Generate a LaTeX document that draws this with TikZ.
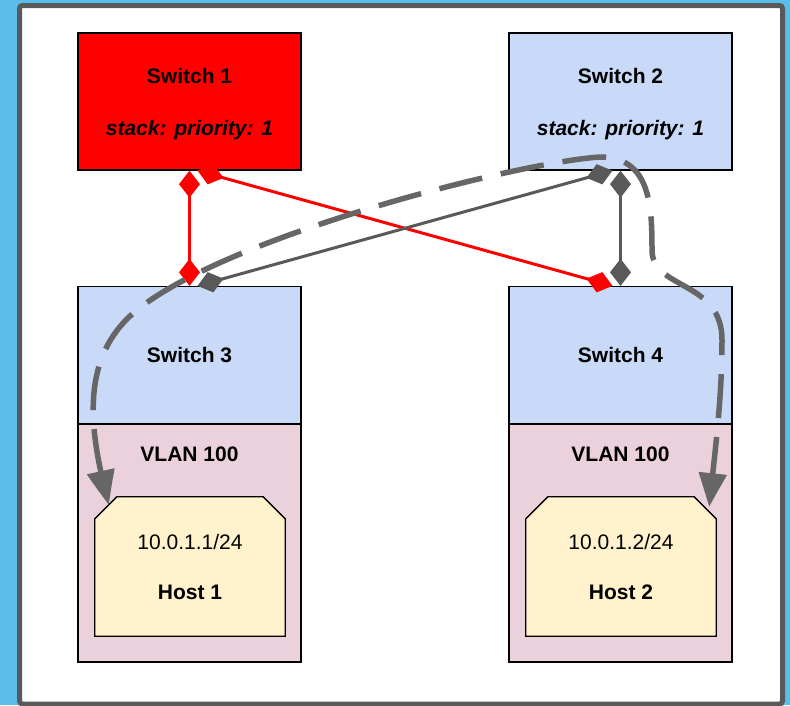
\documentclass[tikz,border=0pt]{standalone}
\usepackage{fontspec}
\setmainfont{Liberation Sans}
\usetikzlibrary{arrows.meta,bending,calc}

\definecolor{skyblue}{HTML}{5BBDEB}
\definecolor{framegray}{HTML}{595959}
\definecolor{swblue}{HTML}{C9DAF8}
\definecolor{vlanpink}{HTML}{EAD1DC}
\definecolor{hostyellow}{HTML}{FFF2CC}
\definecolor{linkgray}{HTML}{595959}
\definecolor{pathgray}{HTML}{666666}

\tikzset{
  box/.style={draw=black, line width=1.3pt, minimum width=223pt, inner sep=0pt,
              font=\fontsize{21}{52}\selectfont\bfseries, align=center},
  switchbox/.style={box, minimum height=137pt},
  vlanbox/.style={box, fill=vlanpink, minimum height=238pt},
  hostsize/.style={minimum width=190pt, minimum height=139pt, inner sep=0pt},
  hostshape/.style={draw=black, line width=1.3pt, fill=hostyellow, line join=miter},
  hosttext/.style={font=\fontsize{21}{50}\selectfont, align=center, inner sep=0pt},
  lbl/.style={font=\fontsize{21}{25}\selectfont\bfseries, inner sep=0pt,
              text height=15pt, text depth=0pt},
  link/.style={line width=3pt,
    arrows={Diamond[length=27pt,width=21pt]-Diamond[length=27pt,width=21pt]}},
  route/.style={draw=pathgray, line width=5.5pt, dash pattern=on 44pt off 19pt,
    arrows={Triangle[length=34pt,width=27pt,bend]-Triangle[length=34pt,width=27pt,bend]}}
}

\begin{document}
\begin{tikzpicture}[x=1pt,y=-1pt]
  % canvas and frame
  \fill[skyblue] (0,0) rectangle (790,705);
  \useasboundingbox (0,0) rectangle (790,705);
  \draw[framegray, fill=white, line width=5pt, rounded corners=3pt]
    (19.5,5.5) rectangle (782.5,704);

  % switches
  \node[switchbox, fill=red] (s1) at (189.5,101.5) {};
  \node[switchbox, fill=swblue] (s2) at (620.5,101.5) {};
  \foreach \s/\n in {s1/1, s2/2} {
    \node[lbl] (\s a) at ($(\s.center)+(0,-25.5)$) {Switch \n};
    \node[lbl] (\s b) at ($(\s.center)+(0,26.5)$) {\itshape stack: priority: 1};
  }
  \node[switchbox, fill=swblue] (s3) at (189.5,355) {};
  \node[switchbox, fill=swblue] (s4) at (620.5,355) {};
  \node[lbl] (s3a) at (s3.center) {Switch 3};
  \node[lbl] (s4a) at (s4.center) {Switch 4};

  % VLAN areas
  \node[vlanbox] (v3) at (189.5,543) {};
  \node[vlanbox] (v4) at (620.5,543) {};
  \node[lbl] (v3t) at ($(v3.north)+(0,31)$) {VLAN 100};
  \node[lbl] (v4t) at ($(v4.north)+(0,31)$) {VLAN 100};

  % hosts: rectangles with chamfered upper corners
  \foreach \h/\x in {h1/190, h2/621} {
    \node[hostsize] (\h) at (\x,566.5) {};
    \draw[hostshape] (\h.south west) -- (\h.south east)
      -- ($(\h.north east)+(0,22)$) -- ($(\h.north east)+(-22,0)$)
      -- ($(\h.north west)+(22,0)$) -- ($(\h.north west)+(0,22)$) -- cycle;
  }
  \node[hosttext] (h1t) at (h1) {10.0.1.1/24\\\bfseries Host 1};
  \node[hosttext] (h2t) at (h2) {10.0.1.2/24\\\bfseries Host 2};

  % stack links
  \draw[link, red] ($(s1.south)+(8,0)$) -- ($(s4.north)+(-8,0)$);
  \draw[link, red] (s1.south) -- (s3.north);
  \draw[link, linkgray] ($(s2.south)+(-8,0)$) -- ($(s3.north)+(8,0)$);
  \draw[link, linkgray] (s2.south) -- (s4.north);

  % traffic path between the hosts
  \coordinate (p0) at ($(h1.north west)+(14,8)$);
  \coordinate (p1) at (137,310);
  \coordinate (p2) at (600,157);
  \coordinate (p3) at (652,250);
  \coordinate (p4) at (722,340);
  \coordinate (p5) at ($(h2.north east)+(-7,10)$);
  \draw[route] (p0) .. controls (92,440) and (75,360) .. (p1)
    .. controls (230,235) and (520,162) .. (p2)
    .. controls (650,157) and (652,205) .. (p3)
    .. controls (652,290) and (722,280) .. (p4)
    .. controls (722,400) and (715,450) .. (p5);
\end{tikzpicture}
\end{document}
